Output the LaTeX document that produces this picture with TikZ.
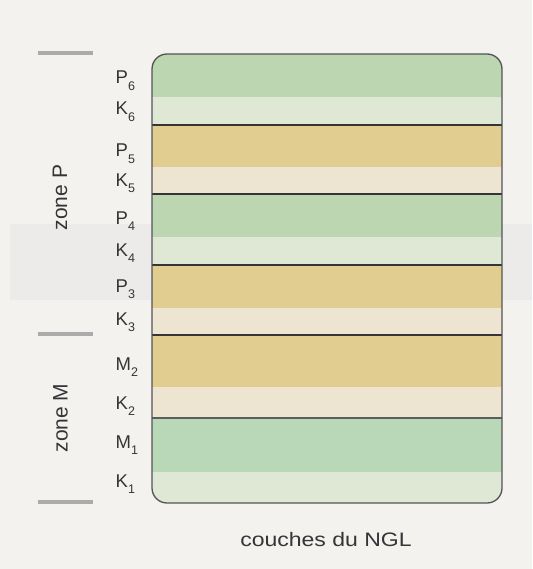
\documentclass[tikz,border=0pt]{standalone}
\usepackage{fontspec}
\setmainfont{Liberation Sans}
\definecolor{pagebg}{HTML}{F4F2EE}
\definecolor{pageband}{HTML}{ECEBEA}
\definecolor{lgreen}{HTML}{BCD6B2}
\definecolor{mgreen}{HTML}{B8D8B8}
\definecolor{palegreen}{HTML}{DEE8D4}
\definecolor{tan}{HTML}{E2CD91}
\definecolor{cream}{HTML}{EEE4D2}
\definecolor{inkgray}{HTML}{353538}
\definecolor{markgray}{HTML}{ABABAB}
\newcommand\layerlabel[2]{#1\raisebox{-6.5pt}{\fontsize{12.5}{13}\selectfont #2}}
\tikzset{
  lbl/.style={inner sep=0pt, text=inkgray, font=\fontsize{18.5}{20}\selectfont, anchor=base west},
  zonelbl/.style={inner sep=0pt, text=inkgray, font=\fontsize{21}{22}\selectfont, rotate=90, anchor=base},
  divider/.style={draw=inkgray, line width=1.4pt},
  outline/.style={draw=inkgray!85, line width=1.3pt},
  zonemark/.style={draw=markgray, line width=3.5pt}
}
\begin{document}
\begin{tikzpicture}[x=1pt,y=-1pt]
\useasboundingbox (0,0) rectangle (532,569);
\fill[pagebg] (0,0) rectangle (532,569);
\fill[pageband] (10,224) rectangle (532,300);
% bands
\begin{scope}
\clip[rounded corners=15] (152,54) rectangle (502,503);
\fill[lgreen]    (152,54)  rectangle (502,97);
\fill[palegreen] (152,97)  rectangle (502,125);
\fill[tan]       (152,125) rectangle (502,167);
\fill[cream]     (152,167) rectangle (502,194);
\fill[lgreen]    (152,194) rectangle (502,237);
\fill[palegreen] (152,237) rectangle (502,265);
\fill[tan]       (152,265) rectangle (502,308);
\fill[cream]     (152,308) rectangle (502,335);
\fill[tan]       (152,335) rectangle (502,387);
\fill[cream]     (152,387) rectangle (502,418);
\fill[mgreen]    (152,418) rectangle (502,472);
\fill[palegreen] (152,472) rectangle (502,503);
\end{scope}
\draw[divider] (152,125) -- (502,125);
\draw[divider] (152,194) -- (502,194);
\draw[divider] (152,265) -- (502,265);
\draw[divider] (152,335) -- (502,335);
\draw[divider, draw=inkgray!80] (152,418) -- (502,418);
\draw[outline, rounded corners=15] (152,54) rectangle (502,503);
% layer labels
\node[lbl] (lP6) at (115.5,84)  {\layerlabel{P}{6}};
\node[lbl] (lK6) at (115.5,115) {\layerlabel{K}{6}};
\node[lbl] (lP5) at (115.5,157) {\layerlabel{P}{5}};
\node[lbl] (lK5) at (115.5,186) {\layerlabel{K}{5}};
\node[lbl] (lP4) at (115.5,224) {\layerlabel{P}{4}};
\node[lbl] (lK4) at (115.5,256) {\layerlabel{K}{4}};
\node[lbl] (lP3) at (115.5,292) {\layerlabel{P}{3}};
\node[lbl] (lK3) at (115.5,325) {\layerlabel{K}{3}};
\node[lbl] (lM2) at (115.5,370) {\layerlabel{M}{2}};
\node[lbl] (lK2) at (115.5,409) {\layerlabel{K}{2}};
\node[lbl] (lM1) at (115.5,448) {\layerlabel{M}{1}};
\node[lbl] (lK1) at (115.5,487) {\layerlabel{K}{1}};
% zone markers
\draw[zonemark] (38,53) -- (93,53);
\draw[zonemark] (38,334) -- (93,334);
\draw[zonemark] (38,502) -- (93,502);
\node[zonelbl] (zP) at (67,197.5) {zone P};
\node[zonelbl] (zM) at (67.5,418) {zone M};
% caption
\node[inner sep=0pt, text=inkgray, font=\fontsize{19.5}{21}\selectfont, anchor=base] (cap) at (326,546.5) {\scalebox{1.18}[1]{couches du NGL}};
\end{tikzpicture}
\end{document}
